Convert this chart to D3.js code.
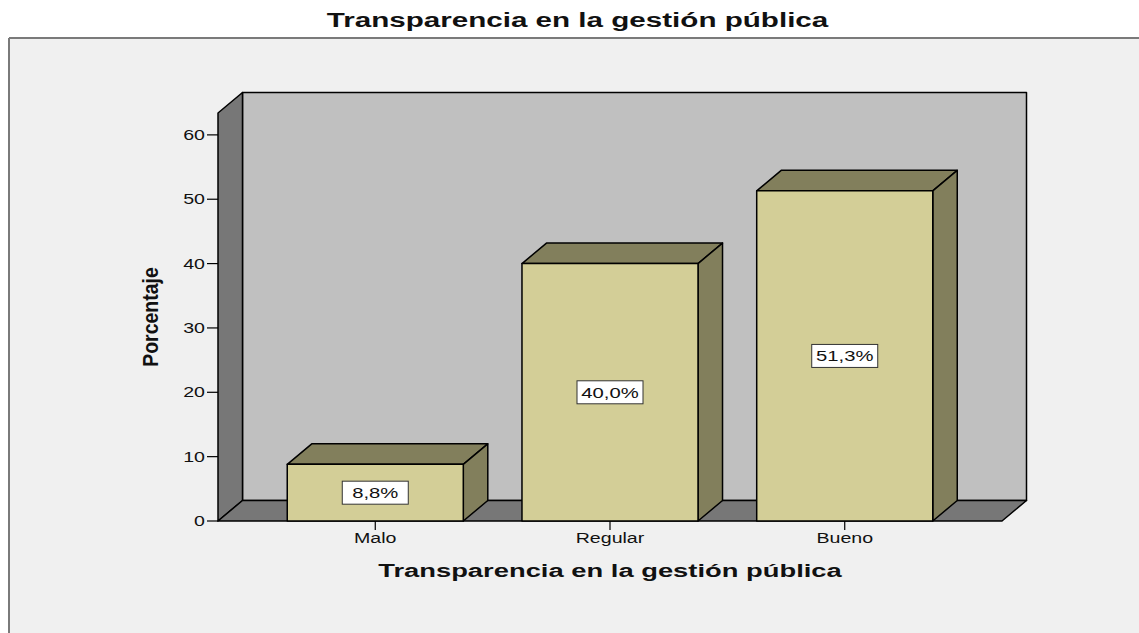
<!DOCTYPE html>
<html>
<head>
    <title>Transparencia en la gestión pública</title>
    <script src="https://d3js.org/d3.v7.min.js"></script>
    <style>
        body { margin: 0; background: #ffffff; }
        text { font-family: "Liberation Sans", Arial, sans-serif; fill: #111; }
    </style>
</head>
<body>
    <div id="grafico"></div>
    <script>
        // datos
        var categorias = ["Malo", "Regular", "Bueno"];
        var porcentajes = [8.8, 40.0, 51.3];
        var etiquetas = ["8,8%", "40,0%", "51,3%"];
        var ticksY = [0, 10, 20, 30, 40, 50, 60];
        var maxY = 63.4;

        var width = 1139, height = 633;
        var dx = 24.5, dy = -20.5;   // profundidad 3D

        var svg = d3.select("#grafico").append("svg")
            .attr("width", width)
            .attr("height", height);

        // marco
        svg.append("rect").attr("x", 9).attr("y", 38).attr("width", width).attr("height", height)
            .attr("fill", "#f0f0f0");
        svg.append("line").attr("x1", 9).attr("x2", width).attr("y1", 38).attr("y2", 38)
            .attr("stroke", "#7a7a7a").attr("stroke-width", 2);
        svg.append("line").attr("x1", 9).attr("x2", 9).attr("y1", 38).attr("y2", height)
            .attr("stroke", "#7a7a7a").attr("stroke-width", 2);

        var x = d3.scaleBand()
            .domain(categorias)
            .range([218, 1002])
            .paddingInner(0.25)
            .paddingOuter(0.295);

        var y = d3.scaleLinear()
            .domain([0, maxY])
            .range([521, 113]);

        var x0 = x.range()[0], x1 = x.range()[1];
        var y0 = y(0), yTop = y(maxY);

        function poly(pts, fill) {
            svg.append("polygon")
                .attr("points", pts.map(function (p) { return p.join(","); }).join(" "))
                .attr("fill", fill)
                .attr("stroke", "#000")
                .attr("stroke-width", 1.5)
                .attr("stroke-linejoin", "round");
        }

        // paredes
        poly([[x0 + dx, yTop + dy], [x1 + dx, yTop + dy], [x1 + dx, y0 + dy], [x0 + dx, y0 + dy]], "#c0c0c0");
        poly([[x0, y0], [x0, yTop], [x0 + dx, yTop + dy], [x0 + dx, y0 + dy]], "#777777");
        poly([[x0, y0], [x1, y0], [x1 + dx, y0 + dy], [x0 + dx, y0 + dy]], "#777777");

        // eje y
        var ejeY = svg.append("g");
        ticksY.forEach(function (t) {
            ejeY.append("line").attr("x1", x0 - 11).attr("x2", x0).attr("y1", y(t)).attr("y2", y(t))
                .attr("stroke", "#000").attr("stroke-width", 1.2);
            ejeY.append("text")
                .attr("transform", "translate(" + (x0 - 13) + "," + (y(t) + 5) + ") scale(1.4,1)")
                .attr("text-anchor", "end")
                .style("font-size", "14px")
                .text(t);
        });

        // barras
        var bw = x.bandwidth();
        categorias.forEach(function (c, i) {
            var bx = x(c), by = y(porcentajes[i]);
            poly([[bx, by], [bx + dx, by + dy], [bx + bw + dx, by + dy], [bx + bw, by]], "#827f5c");
            poly([[bx + bw, by], [bx + bw + dx, by + dy], [bx + bw + dx, y0 + dy], [bx + bw, y0]], "#827f5c");
            poly([[bx, by], [bx + bw, by], [bx + bw, y0], [bx, y0]], "#d3ce97");

            var cx = bx + bw / 2, cy = y(porcentajes[i] / 2);
            svg.append("rect")
                .attr("x", cx - 33).attr("y", cy - 11.5).attr("width", 66).attr("height", 23)
                .attr("fill", "#fff").attr("stroke", "#333").attr("stroke-width", 1);
            svg.append("text")
                .attr("transform", "translate(" + cx + "," + (cy + 5.5) + ") scale(1.35,1)")
                .attr("text-anchor", "middle")
                .style("font-size", "15px")
                .text(etiquetas[i]);

            svg.append("line").attr("x1", cx).attr("x2", cx).attr("y1", y0).attr("y2", y0 + 9)
                .attr("stroke", "#000").attr("stroke-width", 1.2);
            svg.append("text")
                .attr("transform", "translate(" + cx + "," + (y0 + 22) + ") scale(1.4,1)")
                .attr("text-anchor", "middle")
                .style("font-size", "14px")
                .text(c);
        });

        // títulos
        svg.append("text")
            .attr("transform", "translate(577.5,27) scale(1.48,1)")
            .attr("text-anchor", "middle")
            .style("font-size", "20px").style("font-weight", "bold")
            .text("Transparencia en la gestión pública");

        svg.append("text")
            .attr("transform", "translate(610,577) scale(1.44,1)")
            .attr("text-anchor", "middle")
            .style("font-size", "19px").style("font-weight", "bold")
            .text("Transparencia en la gestión pública");

        svg.append("text")
            .attr("transform", "translate(158,317) rotate(-90) scale(1,1.15)")
            .attr("text-anchor", "middle")
            .style("font-size", "19.5px").style("font-weight", "bold")
            .text("Porcentaje");
    </script>
</body>
</html>
